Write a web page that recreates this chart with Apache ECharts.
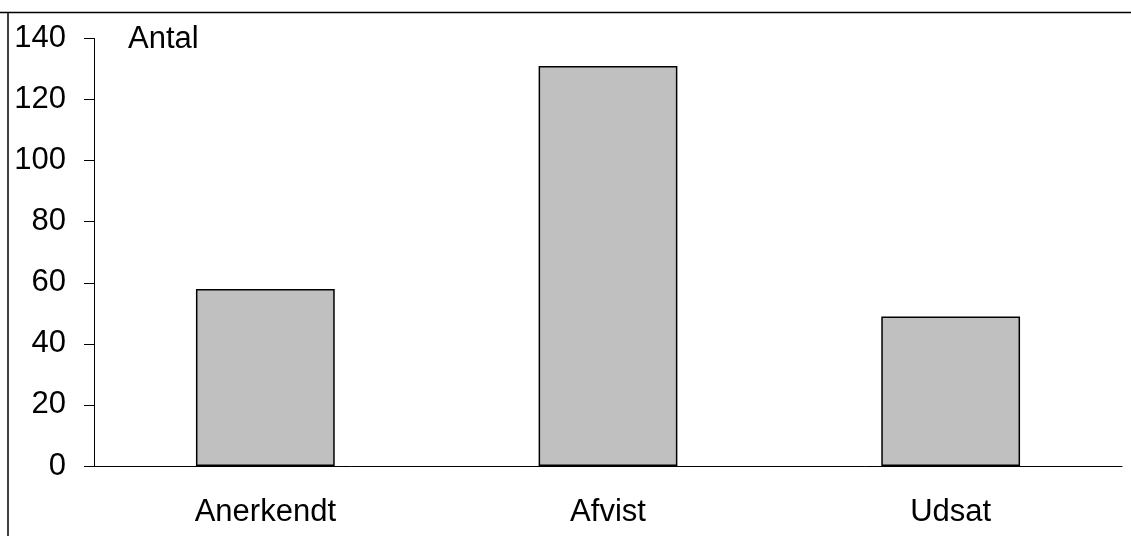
<!DOCTYPE html>
<html>
<head>
<meta charset="utf-8">
<script src="https://cdn.jsdelivr.net/npm/echarts@6/dist/echarts.min.js"></script>
<style>
html,body{margin:0;padding:0;background:#fff;}
#c{width:1131px;height:536px;}
</style>
</head>
<body>
<div id="c"></div>
<script>
var categories = ['Anerkendt', 'Afvist', 'Udsat'];
var values = [58, 131, 49];
var yTicks = [0, 20, 40, 60, 80, 100, 120, 140];
var yTitle = 'Antal';

var chart = echarts.init(document.getElementById('c'), null, {renderer: 'canvas'});
var font = '"Liberation Sans", Arial, sans-serif';
chart.setOption({
  animation: false,
  backgroundColor: '#ffffff',
  grid: {left: 94, right: 9, top: 38.5, bottom: 70, containLabel: false},
  graphic: [
    {type: 'line', shape: {x1: 0, y1: 12.5, x2: 1131, y2: 12.5}, style: {stroke: '#000', lineWidth: 1.5}},
    {type: 'line', shape: {x1: 8, y1: 12.5, x2: 8, y2: 536}, style: {stroke: '#000', lineWidth: 1.5}},
    {type: 'text', x: 128, y: 39, style: {text: yTitle, font: '31px ' + font, fill: '#000', verticalAlign: 'middle', align: 'left'}}
  ],
  xAxis: {
    type: 'category',
    data: categories,
    axisLine: {lineStyle: {color: '#000', width: 1}},
    axisTick: {show: false},
    axisLabel: {color: '#000', fontSize: 31, fontFamily: font, margin: 31},
    splitLine: {show: false}
  },
  yAxis: {
    type: 'value',
    min: yTicks[0],
    max: yTicks[yTicks.length - 1],
    interval: 20,
    axisLine: {show: true, lineStyle: {color: '#000', width: 1}},
    axisTick: {show: true, length: 10, lineStyle: {color: '#000'}},
    axisLabel: {color: '#000', fontSize: 31, fontFamily: font, margin: 28},
    splitLine: {show: false}
  },
  series: [{
    type: 'bar',
    data: values,
    barWidth: '40.5%',
    itemStyle: {color: '#c0c0c0', borderColor: '#000', borderWidth: 1.5}
  }]
});
</script>
</body>
</html>
